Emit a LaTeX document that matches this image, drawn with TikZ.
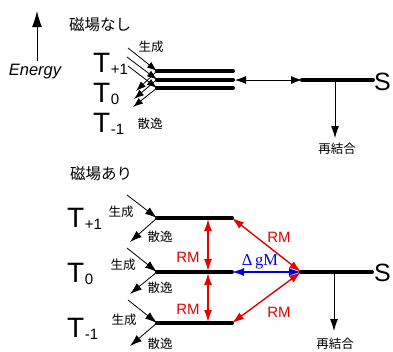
\documentclass[tikz,border=0pt]{standalone}
\usepackage{fontspec}
\setmainfont{Liberation Sans}
\newfontfamily\jpfont{Noto Sans CJK JP}
\newfontfamily\serfont{Liberation Serif}
\usetikzlibrary{arrows.meta}
\definecolor{rmred}{RGB}{230,0,0}
\definecolor{dgblue}{RGB}{0,0,230}
\newcommand{\Tlab}[1]{T\hspace{0.5pt}{\fontsize{15}{15}\selectfont\raisebox{-2pt}{#1}}}
\begin{document}
\begin{tikzpicture}[x=1pt,y=-1pt,
  lvl/.style={line width=4pt,line cap=round},
  thin arrow/.style={line width=0.8pt,-{Latex[length=12pt,width=8pt]}},
  small arrow/.style={line width=0.8pt,-{Latex[length=10pt,width=7pt]}},
  dbl arrow/.style={line width=0.8pt,{Latex[length=11pt,width=8pt]}-{Latex[length=11pt,width=8pt]}},
  rm arrow/.style={line width=1.4pt,rmred,{Latex[length=12pt,width=8pt]}-{Latex[length=12pt,width=8pt]}},
  dg arrow/.style={line width=1.4pt,dgblue,{Latex[length=12pt,width=8pt]}-{Latex[length=12pt,width=8pt]}},
  tlab/.style={font=\fontsize{28}{28}\selectfont,inner sep=0pt,anchor=base west},
  jlab/.style={font=\jpfont\fontsize{12.5}{13}\selectfont,inner sep=0pt},
  jhead/.style={font=\jpfont\fontsize{15.5}{16}\selectfont,inner sep=0pt},
  rmlab/.style={font=\fontsize{15}{15}\selectfont,text=rmred,inner sep=0pt},
  slab/.style={font=\fontsize{25}{25}\selectfont,inner sep=0pt,anchor=west}]
\useasboundingbox (0,0) rectangle (393,351);
% ---------------- top: no field ----------------
\coordinate (eb) at (37,61);
\coordinate (et) at (37,11);
\draw[line width=1pt,-{Latex[length=16pt,width=10pt]}] (eb) -- (et);
\node[font=\itshape\fontsize{16.5}{17}\selectfont,inner sep=0pt] (energy) at (35,72) {Energy};
\node[jhead] (nofield) at (100,25) {磁場なし};
\node[tlab] (tp1a) at (93,72) {\Tlab{+1}};
\node[tlab] (t0a) at (93,102) {\Tlab{0}};
\node[tlab] (tm1a) at (93,132) {\Tlab{-1}};
\node[jlab] (gena) at (151,47) {生成};
\node[jlab] (disa) at (150,124) {散逸};
% levels
\coordinate (la1) at (157,71);  \coordinate (ra1) at (233,71);
\coordinate (la2) at (157,79.5);\coordinate (ra2) at (233,79.5);
\coordinate (la3) at (157,88);  \coordinate (ra3) at (233,88);
\draw[lvl] (la1) -- (ra1);
\draw[lvl] (la2) -- (ra2);
\draw[lvl] (la3) -- (ra3);
% generation
\coordinate (ga1) at (128,48); \coordinate (ga2) at (127,57); \coordinate (ga3) at (128,66);
\draw[small arrow] (ga1) -- (la1);
\draw[small arrow] (ga2) -- (la2);
\draw[small arrow] (ga3) -- (la3);
% dissipation
\coordinate (da1) at (136,91); \coordinate (da2) at (134,99); \coordinate (da3) at (133,107);
\draw[small arrow] (la1) -- (da1);
\draw[small arrow] (la2) -- (da2);
\draw[small arrow] (la3) -- (da3);
% singlet
\coordinate (sla) at (302,80); \coordinate (sra) at (373,80);
\draw[lvl] (sla) -- (sra);
\node[slab] (sa) at (374,82) {S};
\coordinate (tra) at (235,80);
\draw[dbl arrow] (tra) -- (sla);
\coordinate (rca) at (335,80); \coordinate (rcaend) at (335,138);
\draw[thin arrow] (rca) -- (rcaend);
\node[jlab] (reca) at (337,149) {再結合};
% ---------------- bottom: with field ----------------
\node[jhead] (field) at (101,174) {磁場あり};
\node[tlab] (tp1b) at (67,227) {\Tlab{+1}};
\node[tlab] (t0b) at (67,282) {\Tlab{0}};
\node[tlab] (tm1b) at (67,337) {\Tlab{-1}};
\coordinate (lb1) at (157,218); \coordinate (rb1) at (232,218);
\coordinate (lb2) at (157,272); \coordinate (rb2) at (232,272);
\coordinate (lb3) at (157,323); \coordinate (rb3) at (232,323);
\draw[lvl] (lb1) -- (rb1);
\draw[lvl] (lb2) -- (rb2);
\draw[lvl] (lb3) -- (rb3);
\node[jlab] (genb1) at (121,212) {生成};
\node[jlab] (genb2) at (123,265) {生成};
\node[jlab] (genb3) at (124,320) {生成};
\node[jlab] (disb1) at (160,237) {散逸};
\node[jlab] (disb2) at (160,288) {散逸};
\node[jlab] (disb3) at (160,344) {散逸};
\coordinate (gb1) at (127,195); \coordinate (gb2) at (127,248); \coordinate (gb3) at (128,300);
\draw[thin arrow] (gb1) -- (lb1);
\draw[thin arrow] (gb2) -- (lb2);
\draw[thin arrow] (gb3) -- (lb3);
\coordinate (db1) at (130,242); \coordinate (db2) at (130,294); \coordinate (db3) at (130,346);
\draw[thin arrow] (lb1) -- (db1);
\draw[thin arrow] (lb2) -- (db2);
\draw[thin arrow] (lb3) -- (db3);
% singlet
\coordinate (slb) at (301,272); \coordinate (srb) at (372,272);
\draw[lvl] (slb) -- (srb);
\node[slab] (sb) at (374,273) {S};
\coordinate (rcb) at (334,272); \coordinate (rcbend) at (334,331);
\draw[thin arrow] (rcb) -- (rcbend);
\node[jlab] (recb) at (335,344) {再結合};
% RM transitions
\coordinate (v1t) at (208,219); \coordinate (v1b) at (208,271);
\coordinate (v2t) at (208,273); \coordinate (v2b) at (208,322);
\draw[rm arrow] (v1t) -- (v1b);
\draw[rm arrow] (v2t) -- (v2b);
\draw[rm arrow] (rb1) -- (slb);
\draw[rm arrow] (rb3) -- (slb);
\draw[dg arrow] (rb2) -- (slb);
\node[rmlab] (rm1) at (188,257) {RM};
\node[rmlab] (rm2) at (188,309) {RM};
\node[rmlab] (rm3) at (279,237) {RM};
\node[rmlab] (rm4) at (279,312) {RM};
\node[font=\serfont\fontsize{16.5}{17}\selectfont,text=dgblue,inner sep=0pt] (dgm) at (260,262) {Δ\,gM};
\end{tikzpicture}
\end{document}
